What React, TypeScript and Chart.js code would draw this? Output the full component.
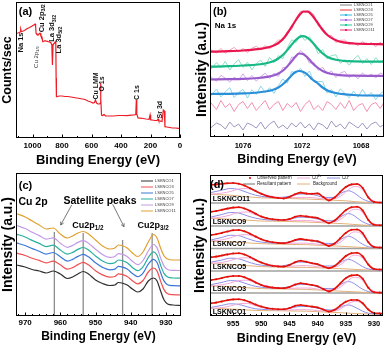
import React, { useEffect, useRef } from 'react';
import { Chart, registerables } from 'chart.js';

Chart.register(...registerables);

const FONT = 'Arial, "Liberation Sans", Helvetica, sans-serif';
Chart.defaults.font.family = FONT;

// ---------------- Panel (a): survey ----------------
const A_TICKS = [1000, 800, 600, 400, 200, 0];
const A_ENERGY = [1112, 1100, 1090, 1084, 1080, 1076, 1062, 1050, 1035, 1020, 1005, 995, 988, 983, 979, 976, 970, 963, 960, 955, 949, 943, 937, 930, 922, 915, 905, 893, 884, 876, 869, 865, 861, 859, 852, 845, 842, 840, 838, 834, 820, 800, 780, 760, 740, 720, 700, 680, 660, 644, 624, 605, 590, 580, 573, 566, 556, 545, 541, 539, 536, 532, 525, 515, 505, 480, 450, 420, 390, 360, 330, 312, 300, 296, 293, 285, 270, 250, 230, 210, 203, 199, 190, 170, 155, 149, 144, 130, 122, 113, 106, 102, 90, 70, 50, 30, 10, 0];
const A_COUNTS = [104.7, 105, 105.5, 106, 108.7, 106.5, 107, 108, 109.5, 110.5, 111.7, 112.7, 113.3, 114, 112, 104.7, 103.5, 103, 103, 104.5, 104.7, 102, 101.3, 96.3, 96.8, 97.3, 96.8, 96.3, 96, 95.3, 93, 73, 93.3, 93.7, 94.7, 96.3, 94, 60, 41.3, 41.3, 42, 42, 41.5, 41.5, 41, 40.5, 40, 39.5, 39, 38.5, 37, 36, 35, 35.5, 38, 35, 34, 34, 35, 55, 40, 23, 22.5, 23.5, 22, 22, 22, 22.5, 22.5, 22.3, 22.8, 23, 23.5, 38, 24, 20, 19.8, 19.5, 19, 18.7, 23, 18, 18, 17.5, 17.5, 19, 17, 16.8, 16.5, 28, 27, 11.3, 11, 10.5, 10, 10, 9.7, 9.5];

// ---------------- Panel (b): Na 1s ----------------
const B_TICKS = [1076, 1072, 1068];
const B_ENERGY = [1078.2, 1077.8, 1077.5, 1077.2, 1076.9, 1076.6, 1076.3, 1076.0, 1075.7, 1075.4, 1075.1, 1074.8, 1074.5, 1074.2, 1073.9, 1073.6, 1073.3, 1073.0, 1072.7, 1072.4, 1072.1, 1071.8, 1071.5, 1071.2, 1070.9, 1070.6, 1070.3, 1070.0, 1069.7, 1069.4, 1069.1, 1068.8, 1068.5, 1068.2, 1067.9, 1067.6, 1067.3, 1067.0, 1066.7, 1066.4];
const B_RAW_1 = [9, 14, 12, 8, 15, 10, 13, 7, 14, 12, 9, 15, 8, 13, 16, 9, 12, 8, 14, 10, 15, 9, 13, 7, 14, 12, 8, 16, 10, 13, 8, 15, 12, 9, 14, 8, 13, 15, 10, 13];
const B_RAW_3 = [34.5, 27.5, 36.5, 29.5, 33.5, 25.5, 32.5, 35.5, 28.5, 34.5, 26.5, 31.5, 36.5, 27.5, 32.5, 35.5, 26.5, 33.5, 29.5, 34.5, 25.5, 32.5, 36.5, 27.5, 31.5, 26.5, 35.5, 32.5, 27.5, 34.5, 28.5, 36.5, 26.5, 31.5, 33.5, 25.5, 32.5, 34.5, 28.5, 35.5];
const B_RAW_5 = [41, 48, 40.1, 45.2, 49.3, 39.4, 44.5, 47.6, 38.9, 47.2, 42.5, 51, 44.5, 49.3, 43.6, 51.5, 58, 54, 65.5, 63.5, 68.8, 60.5, 66, 55.5, 55.5, 55.5, 44, 47.5, 40, 48.2, 43.6, 39.2, 46, 39.8, 47.6, 40.5, 44.4, 37.4, 43.3, 46.3];
const B_RAW_7 = [60.5, 55.6, 61.7, 58.8, 54.9, 60, 57.1, 63.2, 56.4, 61.6, 55.8, 60.3, 63.8, 58.6, 63.8, 60.5, 69.5, 69.5, 80, 79.5, 86.5, 82.5, 74, 74.5, 66.7, 69.8, 63, 66, 59.4, 64, 65.6, 59.4, 62.3, 58.2, 64.1, 60.1, 63, 59, 64, 62];
const B_RAW_9 = [67.3, 74.4, 69.5, 75.7, 66.9, 73.1, 77.3, 69.5, 74.8, 67.1, 73.4, 76.9, 70.5, 79.6, 74.2, 81.5, 78.2, 89, 97.2, 94.5, 102.5, 96.5, 100.3, 93.7, 83, 87.5, 78.3, 81.5, 82.2, 73.6, 77.1, 71.9, 77.7, 81.6, 73.5, 78.4, 72.4, 79.3, 74.3, 78.3];
const B_RAW_11 = [87.3, 83.9, 88.6, 83.7, 86.9, 89.6, 85.3, 88.5, 84.4, 88.8, 90.7, 87.3, 91.5, 88, 92.7, 97, 96.5, 105.5, 107.5, 118.5, 126, 125, 126, 122.5, 111, 109, 101.5, 101.5, 94.5, 96.7, 96.9, 92.5, 94.6, 91.3, 95.6, 92, 94.4, 90.3, 94.7, 91.7];
const B_FIT_ENERGY = [1078.2, 1077, 1076, 1075, 1074.5, 1074, 1073.6, 1073.2, 1072.8, 1072.5, 1072.2, 1071.9, 1071.6, 1071.3, 1071.0, 1070.6, 1070.2, 1069.7, 1069.2, 1068.5, 1067.5, 1066.4];
const B_FIT_5 = [43, 43.2, 43.6, 44.5, 45.5, 47, 49.5, 54, 60, 64.5, 66, 65, 62, 57.5, 54.5, 49.5, 46, 44, 42.8, 42, 41.5, 41.3];
const B_FIT_7 = [57.5, 57.8, 58.2, 59, 59.8, 61.2, 63.5, 67.5, 74, 79.5, 83.5, 82.8, 79, 74, 70, 66, 63.8, 62.4, 61.6, 61.3, 61.1, 61];
const B_FIT_9 = [70.3, 70.8, 71.5, 72.5, 73.5, 75.5, 78.5, 83.5, 90.5, 95.8, 99.8, 100.8, 98.8, 94.8, 89.5, 83.5, 79.5, 77.2, 76.2, 75.6, 75.4, 75.3];
const B_FIT_11 = [85.3, 85.8, 86.5, 87.8, 89, 91, 94, 99.5, 108, 115, 121.5, 125.5, 125.3, 121.5, 115.5, 107, 101, 96.8, 94.6, 93.5, 93, 92.7];

// ---------------- Panel (c): Cu 2p ----------------
const C_TICKS = [970, 960, 950, 940, 930];
const C_ENERGY = [972.5, 970, 968, 966, 964, 962, 960, 958, 956.5, 955, 953.5, 952, 950, 948, 946, 944.5, 943.5, 942.5, 941, 939.5, 938, 936.5, 935, 933.5, 932.5, 931.5, 930.5, 929.5, 928, 925.7];
const C_1 = [51, 49, 46.5, 45, 43, 45, 42, 37.5, 39, 42, 44.5, 42, 36, 32.5, 30.5, 31, 33.5, 33, 31, 27, 24, 27, 35, 38, 35, 25, 16, 12, 11, 10.5];
const C_3 = [62.8, 60.5, 57.7, 55.6, 53.1, 54.9, 51.2, 46.8, 48.4, 51.4, 53.7, 51.2, 45.2, 41.1, 38.9, 39.5, 42.1, 41.6, 39.5, 35.3, 32.2, 35.5, 44, 48, 44.9, 34.9, 26.1, 22.3, 21.3, 21];
const C_5 = [73.1, 70.5, 67.4, 64.8, 61.9, 63.5, 59.2, 54.9, 56.6, 59.6, 61.7, 59.2, 53.2, 48.6, 46.2, 46.9, 49.6, 49.1, 46.9, 42.5, 39.3, 42.9, 51.8, 56.7, 53.5, 43.5, 34.9, 31.3, 30.3, 30.1];
const C_7 = [81.9, 79, 75.6, 72.6, 69.4, 70.8, 66, 61.8, 63.6, 66.6, 68.5, 66, 60, 55, 52.4, 53.2, 56, 55.5, 53.2, 48.6, 45.3, 49.2, 58.4, 64.1, 60.8, 50.8, 42.4, 39, 38, 37.8];
const C_9 = [90.7, 87.5, 83.8, 80.4, 76.9, 78.1, 72.8, 68.7, 70.6, 73.6, 75.3, 72.8, 66.8, 61.4, 58.6, 59.5, 62.4, 61.9, 59.5, 54.7, 51.3, 55.5, 65, 71.5, 68.1, 58.1, 49.9, 46.6, 45.6, 45.5];
const C_11 = [102.5, 99, 95, 91, 87, 88, 82, 78, 80, 83, 84.5, 82, 76, 70, 67, 68, 71, 70.5, 68, 63, 59.5, 64, 74, 81.5, 78, 68, 60, 57, 56, 56];
const C_PEAK_LINES = [961.7, 953.5, 942.3, 933.9];
const C_PEAK_LINE_TOPS = [84, 83, 76, 83];

// ---------------- Panel (d): Cu 2p deconvolution ----------------
const D_TICKS = [955, 950, 945, 940, 935, 930];
const D_SAMPLES = ['LSKNCO1', 'LSKNCO3', 'LSKNCO5', 'LSKNCO7', 'LSKNCO9', 'LSKNCO11'];
const D_OBS_X = [958.9, 958, 957, 956, 955, 954, 953, 952, 951, 950, 949, 948, 947, 946, 945, 944, 943, 942, 941, 940, 939, 938, 937, 936, 935, 934, 933, 932, 931, 930, 929, 928.5];
const D_OBS_1 = [12.7, 13.4, 14.6, 15.8, 16.6, 16.7, 15.8, 13.8, 11.5, 9.4, 8, 7.2, 6.8, 6.8, 8, 10.2, 11, 10.3, 9.4, 8.6, 6.5, 4.4, 6.2, 10.4, 14.2, 16, 16, 12.8, 6.4, 3, 2.6, 2.5];
const D_OBS_3 = [13, 13.8, 15, 16.2, 17, 17, 15.8, 13.4, 10.6, 8.1, 6.4, 5.4, 4.9, 4.8, 6, 8.4, 9.7, 9, 8, 6.8, 4, 1.6, 4.2, 9.5, 14.8, 17.6, 18, 14.2, 5.2, 0.8, 0.4, 0.3];
const D_OBS_5 = [13.7, 14.4, 15.5, 16.6, 17.5, 17.7, 16.5, 14, 11, 8.4, 6.5, 5.2, 4.6, 4.4, 6, 8.8, 10.2, 9.2, 7.8, 6.8, 4.6, 2.8, 5, 9.8, 15, 17.8, 18.2, 14.6, 6.4, 2, 1.5, 1.4];
const D_OBS_7 = [13.5, 14.3, 15.6, 17, 18.2, 18.5, 17.2, 14.8, 12, 9.3, 7.4, 6.2, 5.6, 5.3, 6.4, 8.5, 9.6, 8.7, 7.9, 7.2, 5, 2.6, 5, 10.2, 15.6, 18.7, 19, 15.2, 6.2, 1.5, 1, 0.9];
const D_OBS_9 = [14.3, 15, 16.2, 17.4, 18.4, 18.7, 17.6, 15.2, 12.3, 9.5, 7.8, 6.8, 6.2, 6, 7, 9.2, 10.2, 9.6, 8.8, 8, 5.5, 2.8, 5.4, 10.5, 15.8, 18.8, 19.2, 15.5, 6, 1.2, 0.8, 0.7];
const D_OBS_11 = [18, 18.6, 19.3, 19.7, 20, 19.2, 17.5, 14.8, 12, 9.2, 7, 5.8, 5, 4.6, 6, 8.8, 10.4, 9.4, 9.2, 9.6, 6, 2.5, 5.5, 11, 16, 18.6, 19, 15, 5.5, 1, 0.5, 0.4];
const D_COMP_X = [958.9, 957, 955.5, 954, 952.5, 951, 949, 947, 945, 943, 941, 939, 937, 935.5, 934.5, 933.5, 932.5, 931.5, 930.5, 929.2, 928.5];
const D_CU2_1 = [7.6, 8.4, 10, 12.2, 12.6, 10.2, 7.4, 6, 6, 6.4, 6, 5, 5, 8.6, 12.4, 14.6, 13.6, 9, 4.4, 2.2, 2.1];
const D_CU2_3 = [7.2, 8.2, 10, 12.4, 12.8, 10, 6.6, 4.8, 4.6, 5, 4.8, 3.2, 3.4, 7.8, 12.8, 15.8, 14.6, 9, 3.2, 0.6, 0.4];
const D_CU2_5 = [7.8, 8.6, 10.4, 12.8, 13.2, 10.4, 6.8, 4.8, 4.6, 5.4, 5, 3.8, 4, 8, 12.8, 15.8, 14.8, 9.6, 4, 1.4, 1.2];
const D_CU2_7 = [7.6, 8.6, 10.6, 13.4, 13.8, 11, 7.4, 5.6, 5.2, 5.4, 5, 3.8, 4, 8.2, 13.4, 16.6, 15.6, 9.8, 3.8, 1.1, 0.9];
const D_CU2_9 = [8, 9, 11, 13.6, 14, 11.2, 7.8, 6, 5.6, 5.6, 5.2, 4, 4.2, 8.4, 13.6, 16.8, 15.8, 9.8, 3.8, 1, 0.7];
const D_CU2_11 = [9, 9.8, 11.5, 14, 14.5, 11.5, 7.8, 5.8, 5.2, 5.6, 5.4, 4.2, 4.4, 8.5, 13.5, 16.5, 15.5, 9.5, 3.5, 0.8, 0.5];
const D_CU1_1 = [8.6, 10.6, 12.2, 11.6, 9.2, 7.2, 6.4, 6.2, 7.6, 9.6, 9, 6.6, 6, 10, 11, 9.2, 6.2, 3.6, 2.4, 2, 1.9];
const D_CU1_3 = [8.4, 10.6, 12.4, 11.8, 9, 6.6, 5.2, 4.8, 6.4, 8.6, 7.8, 4.6, 4.4, 9.8, 11.4, 9.4, 5.4, 2.4, 0.8, 0.3, 0.2];
const D_CU1_5 = [8.8, 11, 12.8, 12.2, 9.4, 6.8, 5.2, 4.6, 6.6, 9, 7.8, 5, 5, 10, 11.6, 9.6, 6, 3, 1.5, 1, 0.9];
const D_CU1_7 = [8.6, 11, 13.2, 12.8, 10, 7.4, 5.8, 5.2, 6.6, 8.4, 7.6, 5.2, 5, 10.4, 12.2, 10, 6, 2.8, 1.2, 0.7, 0.6];
const D_CU1_9 = [9, 11.5, 13.5, 13, 10.2, 7.8, 6.2, 5.8, 7, 8.8, 8.2, 5.6, 5.2, 10.6, 12.4, 10.2, 6, 2.8, 1.1, 0.6, 0.5];
const D_CU1_11 = [10.5, 12.8, 14.5, 13.5, 10.5, 7.8, 6, 5.4, 6.8, 9, 8.6, 5.8, 5.4, 10.8, 12.2, 10, 5.8, 2.6, 1, 0.5, 0.4];
const D_BG_X = [958.9, 956, 953, 950, 946, 942, 938, 935, 933, 931, 929.2, 928.5];
const D_BG_1 = [7.6, 7.2, 6.2, 5.4, 5.2, 4.8, 3.8, 3, 2.4, 2, 1.8, 1.8];
const D_BG_3 = [7, 6.5, 5.4, 4.4, 4, 3.6, 2.4, 1.6, 1, 0.4, 0.2, 0.2];
const D_BG_5 = [7.4, 6.8, 5.6, 4.4, 3.8, 3.6, 2.8, 2.1, 1.5, 1, 0.8, 0.8];
const D_BG_7 = [7.2, 6.8, 5.8, 4.8, 4.2, 3.8, 2.8, 2, 1.3, 0.7, 0.5, 0.5];
const D_BG_9 = [7.5, 7, 6, 5, 4.6, 4, 3, 2.2, 1.3, 0.6, 0.4, 0.4];
const D_BG_11 = [8.5, 8, 6.5, 5.2, 4.6, 4, 3, 2.2, 1.2, 0.5, 0.3, 0.3];

// stacking offsets (layout) for panel (d)
const D_OFFSETS = [0, 23, 45, 67.5, 90, 113];
const D_SEPARATORS = [23, 45, 67.5, 90, 113];

// ---------------- helpers ----------------
const xy = (xs: number[], ys: number[], dy = 0) => xs.map((x, i) => ({ x, y: ys[i] + dy }));
const range = (from: number, to: number, step: number) => {
  const r: number[] = [];
  for (let v = from; v <= to + 1e-9; v += step) r.push(Math.round(v * 1000) / 1000);
  return r;
};
const minorOf = (from: number, to: number, step: number, major: number[]) =>
  range(from, to, step).filter((v) => !major.some((m) => Math.abs(m - v) < 1e-6));

const line = (data: any[], color: string, width: number, extra: any = {}) => ({
  data, borderColor: color, backgroundColor: color, borderWidth: width,
  pointRadius: 0, tension: 0, fill: false, ...extra,
});
const smooth = { cubicInterpolationMode: 'monotone' };

type Part = { t: string; k?: 'sub' | 'sup' };
function rich(ctx: any, parts: Part[], x: number, y: number, size: number, weight: string, color: string, rot = 0, align = 'center') {
  ctx.save();
  ctx.translate(x, y);
  if (rot) ctx.rotate(rot);
  ctx.fillStyle = color;
  ctx.textBaseline = 'middle';
  ctx.textAlign = 'left';
  const f = (p: Part) => `${weight} ${p.k ? size * 0.7 : size}px ${FONT}`;
  let w = 0;
  parts.forEach((p) => { ctx.font = f(p); w += ctx.measureText(p.t).width; });
  let cx = align === 'center' ? -w / 2 : 0;
  parts.forEach((p) => {
    ctx.font = f(p);
    const dy = p.k === 'sub' ? size * 0.3 : p.k === 'sup' ? -size * 0.33 : 0;
    ctx.fillText(p.t, cx, dy);
    cx += ctx.measureText(p.t).width;
  });
  ctx.restore();
}
function arrow(ctx: any, x1: number, y1: number, x2: number, y2: number) {
  ctx.beginPath(); ctx.moveTo(x1, y1); ctx.lineTo(x2, y2); ctx.stroke();
  const a = Math.atan2(y2 - y1, x2 - x1); const L = 3.5;
  ctx.beginPath();
  ctx.moveTo(x2 - L * Math.cos(a - 0.5), y2 - L * Math.sin(a - 0.5));
  ctx.lineTo(x2, y2);
  ctx.lineTo(x2 - L * Math.cos(a + 0.5), y2 - L * Math.sin(a + 0.5));
  ctx.stroke();
}

const makeFrame = (major: number[], minor: number[]) => ({
  id: 'frameTicks',
  afterDatasetsDraw(chart: any) {
    const { ctx, chartArea: a } = chart;
    const sx = chart.scales.x;
    ctx.save();
    ctx.strokeStyle = '#000';
    ctx.lineWidth = 1;
    ctx.strokeRect(a.left + 0.5, a.top + 0.5, a.right - a.left - 1, a.bottom - a.top - 1);
    ctx.beginPath();
    major.forEach((v) => { const p = Math.round(sx.getPixelForValue(v)) + 0.5; ctx.moveTo(p, a.bottom); ctx.lineTo(p, a.bottom - 3.5); });
    minor.forEach((v) => { const p = Math.round(sx.getPixelForValue(v)) + 0.5; ctx.moveTo(p, a.bottom); ctx.lineTo(p, a.bottom - 2); });
    ctx.stroke();
    ctx.restore();
  },
});
const makeDecor = (under: any, over: any) => ({
  id: 'decor',
  beforeDatasetsDraw(chart: any) { if (under) { chart.ctx.save(); under(chart, chart.ctx); chart.ctx.restore(); } },
  afterDraw(chart: any) { if (over) { chart.ctx.save(); over(chart, chart.ctx); chart.ctx.restore(); } },
});

function makeConfig(p: any): any {
  return {
    type: 'line',
    data: { datasets: p.datasets },
    options: {
      responsive: false, animation: false, devicePixelRatio: 1, events: [],
      layout: { padding: p.padding },
      plugins: { legend: { display: false }, tooltip: { enabled: false } },
      scales: {
        x: {
          type: 'linear', reverse: true, min: p.xMin, max: p.xMax,
          afterBuildTicks: (s: any) => { s.ticks = p.ticks.map((v: number) => ({ value: v })); },
          afterFit: (s: any) => { s.height = p.xh; },
          grid: { display: false, drawTicks: false },
          border: { display: false },
          ticks: { autoSkip: false, maxRotation: 0, padding: p.tickPad, color: '#000', font: { family: FONT, size: p.tickSize, weight: 'bold' }, callback: (v: any) => String(v) },
          title: { display: true, text: 'Binding Energy (eV)', color: '#000', font: { family: FONT, size: p.xTitleSize, weight: 'bold' }, padding: { top: 0, bottom: p.xTitlePad } },
        },
        y: {
          type: 'linear', min: 0, max: p.yMax,
          afterFit: (s: any) => { s.width = p.yw; },
          grid: { display: false, drawTicks: false },
          border: { display: false },
          ticks: { display: false },
          title: { display: true, text: p.yTitle, color: '#000', font: { family: FONT, size: p.yTitleSize, weight: 'bold' }, padding: { top: p.yTitlePad, bottom: 0 } },
        },
      },
    },
    plugins: [makeFrame(p.ticks, p.minor), makeDecor(p.under, p.over)],
  };
}

// ---------------- panel configs ----------------
const A_LABELS: { parts: Part[]; e: number; i: number; size: number; weight: string; color: string }[] = [
  { parts: [{ t: 'Na 1s' }], e: 1076, i: 95.5, size: 7.5, weight: 'bold', color: '#111' },
  { parts: [{ t: 'Cu 2p' }, { t: '1/2', k: 'sub' }], e: 976, i: 81, size: 6, weight: 'normal', color: '#333' },
  { parts: [{ t: 'Cu 2p' }, { t: '3/2', k: 'sub' }], e: 938, i: 119.7, size: 7.5, weight: 'bold', color: '#111' },
  { parts: [{ t: 'La 3d' }, { t: '3/2', k: 'sub' }], e: 866, i: 109.7, size: 7.5, weight: 'bold', color: '#111' },
  { parts: [{ t: 'La 3d' }, { t: '5/2', k: 'sub' }], e: 822, i: 98, size: 7.5, weight: 'bold', color: '#111' },
  { parts: [{ t: 'Cu LMM' }], e: 571, i: 52, size: 7, weight: 'bold', color: '#111' },
  { parts: [{ t: 'O 1s' }], e: 531, i: 54, size: 7, weight: 'bold', color: '#111' },
  { parts: [{ t: 'C 1s' }], e: 288, i: 45.5, size: 7, weight: 'bold', color: '#111' },
  { parts: [{ t: 'Sr 3d' }], e: 136, i: 28.3, size: 7, weight: 'bold', color: '#111' },
];

function configA() {
  return makeConfig({
    datasets: [line(xy(A_ENERGY, A_COUNTS), '#ee1c24', 1.2)],
    xMin: 0, xMax: 1112, yMax: 136, ticks: A_TICKS, minor: minorOf(100, 1100, 100, A_TICKS),
    padding: { left: 0, top: 2, right: 10, bottom: 0 }, xh: 32, yw: 16,
    tickSize: 8, tickPad: 3, xTitleSize: 13, xTitlePad: 2.2,
    yTitle: 'Counts/sec', yTitleSize: 12.5, yTitlePad: 0,
    over: (chart: any, ctx: any) => {
      const a = chart.chartArea, sx = chart.scales.x, sy = chart.scales.y;
      rich(ctx, [{ t: '(a)' }], a.left + 9.5, a.top + 9.5, 11, 'bold', '#000');
      A_LABELS.forEach((l) => rich(ctx, l.parts, sx.getPixelForValue(l.e), sy.getPixelForValue(l.i), l.size, l.weight, l.color, -Math.PI / 2));
    },
  });
}

const B_LEGEND = [
  { name: 'LSKNCO1', color: '#808080', marker: false },
  { name: 'LSKNCO3', color: '#f03030', marker: false },
  { name: 'LSKNCO5', color: '#30b8e0', marker: true },
  { name: 'LSKNCO7', color: '#b060e0', marker: true },
  { name: 'LSKNCO9', color: '#20c898', marker: true },
  { name: 'LSKNCO11', color: '#f02870', marker: true },
];
function configB() {
  const raw = (ys: number[], c: string) => line(xy(B_ENERGY, ys), c, 1, { order: 2 });
  const fit = (ys: number[], c: string) => line(xy(B_FIT_ENERGY, ys), c, 2.2, { order: 1, ...smooth });
  return makeConfig({
    datasets: [
      raw(B_RAW_1, '#9c96c2'), raw(B_RAW_3, '#f38fb0'), raw(B_RAW_5, '#8ed6ea'),
      raw(B_RAW_7, '#d2a8ec'), raw(B_RAW_9, '#8ee0c2'), raw(B_RAW_11, '#f7a0b4'),
      fit(B_FIT_5, '#2a8fd8'), fit(B_FIT_7, '#9a5ccc'), fit(B_FIT_9, '#16b985'), fit(B_FIT_11, '#e8174f'),
    ],
    xMin: 1066.44, xMax: 1078.24, yMax: 135, ticks: B_TICKS, minor: minorOf(1067, 1078, 1, B_TICKS),
    padding: { left: 0, top: 2, right: 3, bottom: 0 }, xh: 33, yw: 20,
    tickSize: 7.5, tickPad: 4.5, xTitleSize: 12.5, xTitlePad: 2.5,
    yTitle: 'Intensity (a.u.)', yTitleSize: 14, yTitlePad: 3.6,
    over: (chart: any, ctx: any) => {
      const a = chart.chartArea;
      rich(ctx, [{ t: '(b)' }], a.left + 10, a.top + 10, 11, 'bold', '#000');
      rich(ctx, [{ t: 'Na 1s' }], a.left + 15.5, a.top + 24, 8, 'bold', '#000');
      B_LEGEND.forEach((it, i) => {
        const y = a.top + 3 + i * 5;
        ctx.strokeStyle = it.color; ctx.lineWidth = 1;
        ctx.beginPath(); ctx.moveTo(a.right - 44, y); ctx.lineTo(a.right - 32, y); ctx.stroke();
        if (it.marker) { ctx.fillStyle = it.color; ctx.fillRect(a.right - 39, y - 1, 2, 2); }
        rich(ctx, [{ t: it.name }], a.right - 30, y, 4, 'normal', '#333', 0, 'left');
      });
    },
  });
}

const C_LEGEND = [
  { name: 'LSKNCO1', color: '#303030' },
  { name: 'LSKNCO3', color: '#f05050' },
  { name: 'LSKNCO5', color: '#3a78d8' },
  { name: 'LSKNCO7', color: '#2ab0a0' },
  { name: 'LSKNCO9', color: '#c49ae6' },
  { name: 'LSKNCO11', color: '#e0a030' },
];
function configC() {
  const tr = (ys: number[], c: string) => line(xy(C_ENERGY, ys), c, 1.2, smooth);
  return makeConfig({
    datasets: [
      tr(C_1, C_LEGEND[0].color), tr(C_3, C_LEGEND[1].color), tr(C_5, C_LEGEND[2].color),
      tr(C_7, C_LEGEND[3].color), tr(C_9, C_LEGEND[4].color), tr(C_11, C_LEGEND[5].color),
    ],
    xMin: 925.7, xMax: 972.6, yMax: 143, ticks: C_TICKS, minor: minorOf(926, 972, 2, C_TICKS),
    padding: { left: 0, top: 3, right: 9, bottom: 0 }, xh: 31, yw: 16,
    tickSize: 8, tickPad: 1.5, xTitleSize: 12, xTitlePad: 2.8,
    yTitle: 'Intensity (a.u.)', yTitleSize: 14, yTitlePad: 0,
    under: (chart: any, ctx: any) => {
      const a = chart.chartArea, sx = chart.scales.x, sy = chart.scales.y;
      ctx.strokeStyle = '#8c8c8c'; ctx.lineWidth = 1.3;
      C_PEAK_LINES.forEach((e, i) => {
        const x = sx.getPixelForValue(e);
        ctx.beginPath(); ctx.moveTo(x, sy.getPixelForValue(C_PEAK_LINE_TOPS[i])); ctx.lineTo(x, a.bottom); ctx.stroke();
      });
    },
    over: (chart: any, ctx: any) => {
      const a = chart.chartArea, sx = chart.scales.x, sy = chart.scales.y;
      rich(ctx, [{ t: '(c)' }], a.left + 9.5, a.top + 13, 11, 'bold', '#000');
      rich(ctx, [{ t: 'Cu 2p' }], a.left + 17, a.top + 29.5, 10.5, 'bold', '#000');
      rich(ctx, [{ t: 'Satellite peaks' }], a.left + 84, a.top + 28, 10.5, 'bold', '#000');
      rich(ctx, [{ t: 'Cu2p' }, { t: '1/2', k: 'sub' }], sx.getPixelForValue(952.2), sy.getPixelForValue(90), 9, 'bold', '#000');
      rich(ctx, [{ t: 'Cu2p' }, { t: '3/2', k: 'sub' }], sx.getPixelForValue(933.6), sy.getPixelForValue(90), 9, 'bold', '#000');
      ctx.strokeStyle = '#555'; ctx.lineWidth = 0.8;
      arrow(ctx, a.left + 55.7, a.top + 32, a.left + 44.7, a.top + 52);
      arrow(ctx, a.left + 96.7, a.top + 31.3, a.left + 108, a.top + 53.7);
      C_LEGEND.forEach((it, i) => {
        const y = a.top + 8 + i * 6;
        ctx.strokeStyle = it.color; ctx.lineWidth = 1;
        ctx.beginPath(); ctx.moveTo(a.right - 40, y); ctx.lineTo(a.right - 28, y); ctx.stroke();
        rich(ctx, [{ t: it.name }], a.right - 26, y, 4, 'normal', '#333', 0, 'left');
      });
    },
  });
}

function configD() {
  const obs = [D_OBS_1, D_OBS_3, D_OBS_5, D_OBS_7, D_OBS_9, D_OBS_11];
  const cu2 = [D_CU2_1, D_CU2_3, D_CU2_5, D_CU2_7, D_CU2_9, D_CU2_11];
  const cu1 = [D_CU1_1, D_CU1_3, D_CU1_5, D_CU1_7, D_CU1_9, D_CU1_11];
  const bg = [D_BG_1, D_BG_3, D_BG_5, D_BG_7, D_BG_9, D_BG_11];
  const datasets: any[] = [];
  D_SAMPLES.forEach((_, k) => {
    const off = D_OFFSETS[k];
    datasets.push(line(xy(D_BG_X, bg[k], off), '#e3b27a', 1, { order: 4, ...smooth }));
    datasets.push(line(xy(D_COMP_X, cu1[k], off), '#8e8ee6', 1, { order: 3, ...smooth }));
    datasets.push(line(xy(D_COMP_X, cu2[k], off), '#f3a8da', 1, { order: 2, ...smooth }));
    datasets.push(line(xy(D_OBS_X, obs[k], off), '#e3120b', 1.6, { order: 1, ...smooth, pointRadius: 1, pointBorderWidth: 0, pointBackgroundColor: '#e3120b' }));
  });
  return makeConfig({
    datasets,
    xMin: 928.4, xMax: 959.1, yMax: 141, ticks: D_TICKS, minor: minorOf(929, 959, 1, D_TICKS),
    padding: { left: 0, top: 5, right: 3, bottom: 0 }, xh: 31, yw: 20,
    tickSize: 7.5, tickPad: 3.5, xTitleSize: 12.5, xTitlePad: 0.8,
    yTitle: 'Intensity (a.u.)', yTitleSize: 14, yTitlePad: 1.6,
    under: (chart: any, ctx: any) => {
      const a = chart.chartArea, sy = chart.scales.y;
      ctx.strokeStyle = '#a0a0a0'; ctx.lineWidth = 1.5;
      D_SEPARATORS.forEach((v) => {
        const y = sy.getPixelForValue(v);
        ctx.beginPath(); ctx.moveTo(a.left, y); ctx.lineTo(a.right, y); ctx.stroke();
      });
    },
    over: (chart: any, ctx: any) => {
      const a = chart.chartArea, sx = chart.scales.x, sy = chart.scales.y;
      D_SAMPLES.forEach((name, k) => rich(ctx, [{ t: name }], sx.getPixelForValue(958.6), sy.getPixelForValue(D_OFFSETS[k] + 4), 7, 'bold', '#000', 0, 'left'));
      rich(ctx, [{ t: '(d)' }], a.left + 7, a.top + 10, 11, 'bold', '#000');
      const r1 = a.top + 3, r2 = a.top + 9;
      ctx.fillStyle = '#e3120b'; ctx.beginPath(); ctx.arc(a.left + 40, r1, 1.1, 0, Math.PI * 2); ctx.fill();
      rich(ctx, [{ t: 'Observed pattern' }], a.left + 47, r1, 4.5, 'normal', '#222', 0, 'left');
      const seg = (x1: number, x2: number, y: number, c: string) => { ctx.strokeStyle = c; ctx.lineWidth = 1; ctx.beginPath(); ctx.moveTo(a.left + x1, y); ctx.lineTo(a.left + x2, y); ctx.stroke(); };
      seg(87, 100, r1, '#f3a8da');
      rich(ctx, [{ t: 'Cu' }, { t: '2+', k: 'sup' }], a.left + 102, r1, 4.5, 'normal', '#222', 0, 'left');
      seg(117, 130, r1, '#8e8ee6');
      rich(ctx, [{ t: 'Cu' }, { t: '+', k: 'sup' }], a.left + 132, r1, 4.5, 'normal', '#222', 0, 'left');
      seg(33, 45, r2, '#707070');
      rich(ctx, [{ t: 'Resultant pattern' }], a.left + 47, r2, 4.5, 'normal', '#222', 0, 'left');
      seg(87, 100, r2, '#e3b27a');
      rich(ctx, [{ t: 'Background' }], a.left + 103, r2, 4.5, 'normal', '#222', 0, 'left');
    },
  });
}

function Panel({ left, top, width, height, build }: any) {
  const ref = useRef<HTMLCanvasElement>(null);
  useEffect(() => {
    const chart = new Chart(ref.current as HTMLCanvasElement, build());
    return () => chart.destroy();
  }, []);
  return <canvas ref={ref} width={width} height={height} style={{ position: 'absolute', left, top, width, height }} />;
}

export default function App() {
  useEffect(() => {
    document.body.style.margin = '0';
    document.body.style.background = '#fff';
  }, []);
  return (
    <div style={{ position: 'fixed', left: 0, top: 0, width: 387, height: 347, background: '#fff', overflow: 'hidden' }}>
      <Panel left={0} top={0} width={190} height={170} build={configA} />
      <Panel left={190} top={0} width={197} height={170} build={configB} />
      <Panel left={0} top={170} width={190} height={177} build={configC} />
      <Panel left={190} top={170} width={197} height={177} build={configD} />
    </div>
  );
}
